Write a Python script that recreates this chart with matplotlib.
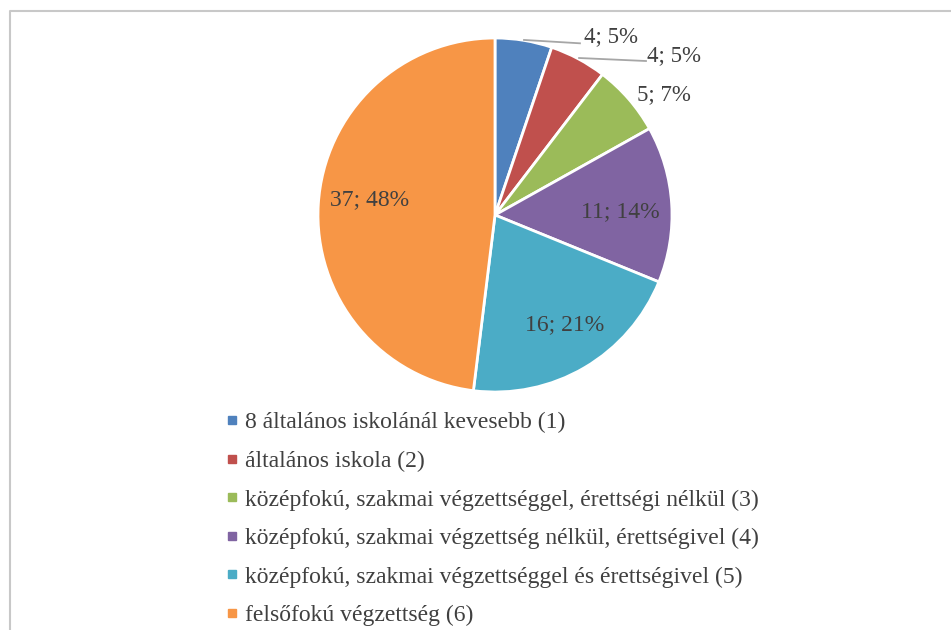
import matplotlib.pyplot as plt
from matplotlib.lines import Line2D

plt.rcParams['font.family'] = ['Liberation Serif', 'DejaVu Serif']

categories = ['8 általános iskolánál kevesebb (1)',
              'általános iskola (2)',
              'középfokú, szakmai végzettséggel, érettségi nélkül (3)',
              'középfokú, szakmai végzettség nélkül, érettségivel (4)',
              'középfokú, szakmai végzettséggel és érettségivel (5)',
              'felsőfokú végzettség (6)']
counts = [4, 4, 5, 11, 16, 37]
percents = [5, 5, 7, 14, 21, 48]
colors = ['#4F81BD', '#C0504D', '#9BBB59', '#8064A2', '#4BACC6', '#F79646']

W, H = 951, 630
fig = plt.figure(figsize=(W / 100, H / 100), dpi=100)

# outer chart frame (left and top edges visible)
fig.add_artist(Line2D([10 / W, 10 / W, 1.0], [0.0, 1 - 11 / H, 1 - 11 / H],
                      transform=fig.transFigure, color='#c8c8c8', lw=1.5))

# pie axes: centre (495, 215), radius 177 px
cx, cy, r = 495, 215, 177
ax = fig.add_axes([(cx - r) / W, 1 - (cy + r) / H, 2 * r / W, 2 * r / H])
wedges, _ = ax.pie(counts, colors=colors, startangle=90, counterclock=False,
                   wedgeprops=dict(edgecolor='white', linewidth=2), radius=1.0)
ax.set_xlim(-1, 1)
ax.set_ylim(-1, 1)
ax.set_aspect('equal')
ax.axis('off')

labels = [f'{c}; {p}%' for c, p in zip(counts, percents)]
txt = dict(color='#404040', va='center')
# label positions (pie units), alignment and size
pos = [(0.50, 1.01, 'left', 16.5), (0.86, 0.90, 'left', 16.5), (0.80, 0.68, 'left', 16.5),
       (0.706, 0.017, 'center', 17), (0.395, -0.62, 'center', 17), (-0.706, 0.085, 'center', 17)]
for lab, (x, y, ha, fs) in zip(labels, pos):
    ax.text(x, y, lab, ha=ha, fontsize=fs, clip_on=False, **txt)

# leader lines for the two small slices
ax.plot([0.164, 0.48], [0.989, 0.97], color='#a6a6a6', lw=1.3, clip_on=False)
ax.plot([0.475, 0.853], [0.887, 0.87], color='#a6a6a6', lw=1.3, clip_on=False)

handles = [Line2D([], [], marker='s', linestyle='none', markersize=6,
                  markerfacecolor=c, markeredgecolor=c) for c in colors]
fig.legend(handles, categories, loc='upper left', bbox_to_anchor=(226 / W, 1 - 412 / H),
           frameon=False, fontsize=17, labelcolor='#404040', handlelength=0.5,
           handletextpad=0.3, labelspacing=0.72, borderpad=0, borderaxespad=0)

fig.savefig('out.png', dpi=100, facecolor='white')
